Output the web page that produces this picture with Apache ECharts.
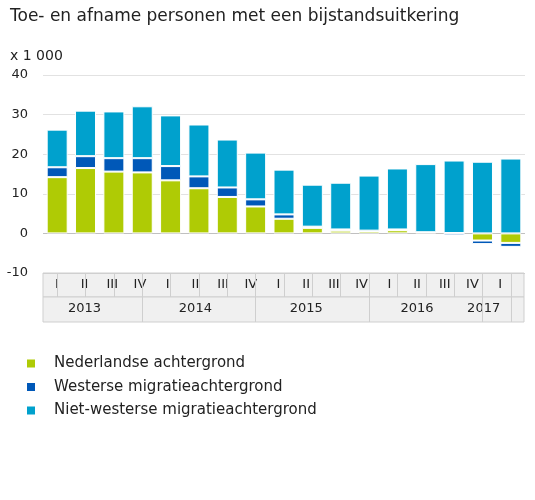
<!DOCTYPE html>
<html>
<head>
<meta charset="utf-8">
<script src="https://cdn.jsdelivr.net/npm/echarts@6/dist/echarts.min.js"></script>
<style>html,body{margin:0;padding:0;background:#fff}#c{width:535px;height:500px}</style>
</head>
<body>
<div id="c"></div>
<script>
const categories = ['2013 I','2013 II','2013 III','2013 IV','2014 I','2014 II','2014 III','2014 IV','2015 I','2015 II','2015 III','2015 IV','2016 I','2016 II','2016 III','2016 IV','2017 I'];
const quarterLabels = ['I','II','III','IV','I','II','III','IV','I','II','III','IV','I','II','III','IV','I'];
const yearLabels = ['','2013','','','','2014','','','','2015','','','','2016','','','2017'];
const yearBoundaryIdx = [3,7,11,15,16];
const yTicks = [-10,0,10,20,30,40];

const nederlandse = [14.2,16.5,15.6,15.4,13.4,11.4,9.2,6.8,3.7,1.4,0.7,0.6,0.8,0.3,0.1,-1.8,-2.4];
const westerse = [2.5,3.0,3.4,3.6,3.6,3.0,2.4,1.8,1.1,0.3,0.3,0.1,0.2,0.0,-0.5,-0.9,-1.0];
const nietWesterse = [9.5,11.5,11.8,13.1,12.8,13.1,12.1,11.8,11.3,10.6,11.8,13.9,15.4,17.2,18.3,18.1,18.9];

const seriesNames = ['Nederlandse achtergrond','Westerse migratieachtergrond','Niet-westerse migratieachtergrond'];
const colors = ['#afcb05','#0058b8','#00a1cd'];

const FONT = 'DejaVu Sans';
const chart = echarts.init(document.getElementById('c'), null, {renderer:'canvas'});

function bar(name, data, color){
  return {
    name, type:'bar', stack:'total', data, barWidth:21,
    xAxisIndex:0, yAxisIndex:0,
    itemStyle:{color, borderColor:'#fff', borderWidth:1},
    emphasis:{disabled:true}
  };
}

chart.setOption({
  animation:false,
  textStyle:{fontFamily:FONT},
  color:colors,
  title:[
    {text:'Toe- en afname personen met een bijstandsuitkering', left:10, top:8, padding:0,
     textStyle:{fontFamily:FONT, fontSize:17, fontWeight:'normal', color:'#222'}},
    {text:'x 1 000', left:10, top:49, padding:0,
     textStyle:{fontFamily:FONT, fontSize:14, fontWeight:'normal', color:'#222'}}
  ],
  legend:{
    orient:'vertical', left:20, top:351, itemWidth:10, itemHeight:10, itemGap:8.5,
    icon:'rect', selectedMode:false,
    data:seriesNames,
    textStyle:{fontFamily:FONT, fontSize:15, color:'#222', padding:[0,0,0,13]}
  },
  grid:[
    {left:43, right:10, top:75, height:198, containLabel:false},
    {left:43, width:471, top:273, height:24, containLabel:false},
    {left:43, width:481, top:273, height:24, show:true, backgroundColor:'#f0f0f0', borderColor:'#cfcfcf', borderWidth:1, z:0},
    {left:43, width:481, top:297, height:25, show:true, backgroundColor:'#f0f0f0', borderColor:'#cfcfcf', borderWidth:1, z:0}
  ],
  xAxis:[
    {type:'category', gridIndex:0, data:categories, position:'bottom',
     axisLine:{show:false, onZero:false},
     axisTick:{show:true, alignWithLabel:true, interval:0, length:24, lineStyle:{color:'#cfcfcf'}},
     axisLabel:{show:false}, z:5},
    {type:'category', gridIndex:0, data:categories, position:'bottom', offset:0,
     axisLine:{show:false, onZero:false},
     axisTick:{show:true, alignWithLabel:true, interval:(i)=>yearBoundaryIdx.includes(i), length:49, lineStyle:{color:'#cfcfcf'}},
     axisLabel:{show:false}, z:5},
    {type:'category', gridIndex:1, data:quarterLabels.map((q,i)=>i+''), position:'top',
     axisLine:{show:false}, axisTick:{show:false},
     axisLabel:{inside:true, margin:5, interval:0, fontFamily:FONT, fontSize:13, color:'#222',
       formatter:(v)=>quarterLabels[+v]}},
    {type:'category', gridIndex:1, data:yearLabels.map((q,i)=>i+''), position:'bottom',
     axisLine:{show:false}, axisTick:{show:false},
     axisLabel:{margin:5, interval:0, fontFamily:FONT, fontSize:13, color:'#222',
       formatter:(v)=>{const y=yearLabels[+v]; if(!y) return ''; return +v===16 ? '{r|'+y+'}' : y;},
       rich:{r:{fontFamily:FONT, fontSize:13, color:'#222', padding:[0,33,0,0]}}}},
    {type:'category', gridIndex:2, data:categories, show:false},
    {type:'category', gridIndex:3, data:categories, show:false}
  ],
  yAxis:[
    {type:'value', gridIndex:0, min:yTicks[0], max:yTicks[yTicks.length-1], interval:10,
     axisLine:{show:false}, axisTick:{show:false},
     axisLabel:{margin:15, fontFamily:FONT, fontSize:13, color:'#222'},
     splitLine:{show:true, lineStyle:{color:['#cfcfcf','#c0c0c0','#e2e2e2','#e2e2e2','#e2e2e2','#e2e2e2'], width:1}}},
    {type:'value', gridIndex:1, show:false},
    {type:'value', gridIndex:2, show:false},
    {type:'value', gridIndex:3, show:false}
  ],
  series:[
    bar(seriesNames[0], nederlandse, colors[0]),
    bar(seriesNames[1], westerse, colors[1]),
    bar(seriesNames[2], nietWesterse, colors[2])
  ]
});
</script>
</body>
</html>
